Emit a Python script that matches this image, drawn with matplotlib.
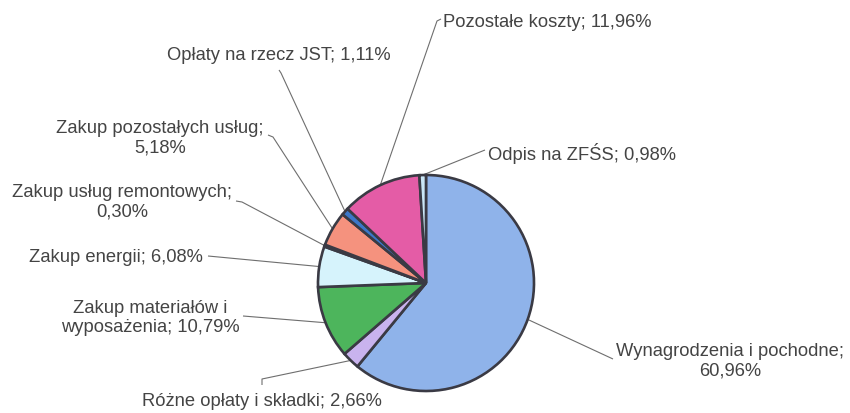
import matplotlib
matplotlib.use("Agg")
import matplotlib.pyplot as plt
import numpy as np

categories = [
    "Wynagrodzenia i pochodne",
    "Różne opłaty i składki",
    "Zakup materiałów i\nwyposażenia",
    "Zakup energii",
    "Zakup usług remontowych",
    "Zakup pozostałych usług",
    "Opłaty na rzecz JST",
    "Pozostałe koszty",
    "Odpis na ZFŚS",
]
values = [60.96, 2.66, 10.79, 6.08, 0.30, 5.18, 1.11, 11.96, 0.98]
value_labels = ["60,96%", "2,66%", "10,79%", "6,08%", "0,30%", "5,18%", "1,11%", "11,96%", "0,98%"]
colors = ["#8fb3ea", "#c9b3ee", "#4db55c", "#d6f3fc", "#4a5a8a",
          "#f5927e", "#3b77c9", "#e45ca6", "#c9e6f6"]

W, H = 850, 414
fig = plt.figure(figsize=(W / 100, H / 100), dpi=100)
ax = fig.add_axes([0, 0, 1, 1])

cx, cy, R = 426, H - 284, 108
wedges, _ = ax.pie(values, colors=colors, startangle=90, counterclock=False,
                   center=(cx, cy), radius=R, frame=True,
                   wedgeprops=dict(edgecolor="#3a3a44", linewidth=1.9))
ax.set_xlim(0, W)
ax.set_ylim(0, H)
ax.set_aspect("equal")
ax.axis("off")

# label layout (pixel coordinates, y from top): text pos, ha, leader points, format
layout = [
    ((730, 361), "center", [(613, 360)], "{c};\n{v}"),
    ((262, 402), "center", [(262, 386), (262, 380)], "{c}; {v}"),
    ((150, 318), "center", [(243, 317)], "{c}; {v}"),
    ((203, 257), "right", [(208, 257)], "{c}; {v}"),
    ((122, 202), "center", [(236, 202), (242, 203)], "{c};\n{v}"),
    ((160, 138), "center", [(268, 136), (273, 138)], "{c};\n{v}"),
    ((279, 55), "center", [(279, 71), (281, 74)], "{c}; {v}"),
    ((443, 22), "left", [(441, 20), (437, 22)], "{c}; {v}"),
    ((488, 153), "left", [(485, 151)], "{c}; {v}"),
]

for w, cat, val, (tpos, ha, pts, fmt) in zip(wedges, categories, value_labels, layout):
    ang = np.deg2rad((w.theta1 + w.theta2) / 2)
    ax_pt = (cx + R * np.cos(ang), cy + R * np.sin(ang))
    xs = [p[0] for p in pts] + [ax_pt[0]]
    ys = [H - p[1] for p in pts] + [ax_pt[1]]
    ax.plot(xs, ys, color="#6e6e6e", lw=0.8, solid_capstyle="butt", zorder=0)
    ax.text(tpos[0], H - tpos[1], fmt.format(c=cat, v=val), ha=ha, va="center",
            multialignment="center", fontsize=13.2, color="#444444",
            family="Liberation Sans", linespacing=1.2)

fig.savefig("out.png", dpi=100)
